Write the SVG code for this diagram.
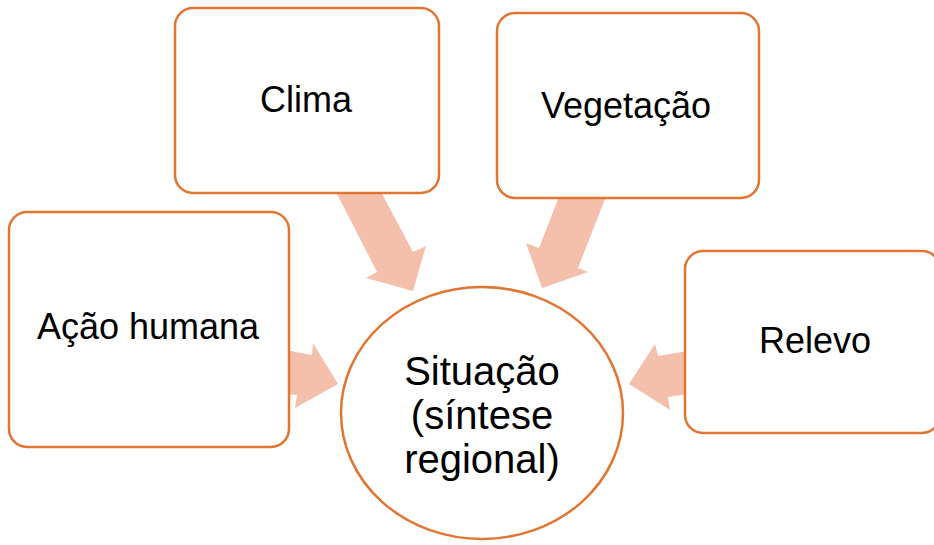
<svg xmlns="http://www.w3.org/2000/svg" width="934" height="545" viewBox="0 0 934 545">
<style>
.box{fill:#fff;stroke:#E07632;stroke-width:2.5}
.arrow{fill:#F4BFAB;stroke:none}
.t{font-family:"Liberation Sans",Arial,sans-serif;fill:#000;text-anchor:middle}
.bt{font-size:36px}
.ct{font-size:40px}
</style>
<rect width="934" height="545" fill="#fff"/>
<g id="connectors">
<polygon class="arrow" points="335,190 380,190 413,252 426,246 413,291 366,278 377,272"/>
<polygon class="arrow" points="560,194 607,194 578,268 588,272 542,288 526,243 539,248"/>
<polygon class="arrow" points="286,350 312,355 313,343 338,384 295,408 297,395 286,394"/>
<polygon class="arrow" points="688,351 658,356 655,344 629,384 670,410 668,397 688,394"/>
</g>
<g id="clima">
<rect class="box" x="175" y="8" width="264" height="185" rx="18"/>
<text class="t bt" x="306" y="112">Clima</text>
</g>
<g id="vegetacao">
<rect class="box" x="497" y="13" width="262" height="185" rx="18"/>
<text class="t bt" x="626" y="118">Vegetação</text>
</g>
<g id="acao-humana">
<rect class="box" x="9" y="212" width="280" height="235" rx="18"/>
<text class="t bt" x="148" y="339">Ação humana</text>
</g>
<g id="relevo">
<rect class="box" x="685" y="251" width="255" height="182" rx="18"/>
<text class="t bt" x="815" y="353">Relevo</text>
</g>
<g id="situacao">
<ellipse class="box" cx="482" cy="413" rx="141" ry="126"/>
<text class="t ct" x="482" y="385">Situação</text>
<text class="t ct" x="482" y="429">(síntese</text>
<text class="t ct" x="482" y="473">regional)</text>
</g>
</svg>
